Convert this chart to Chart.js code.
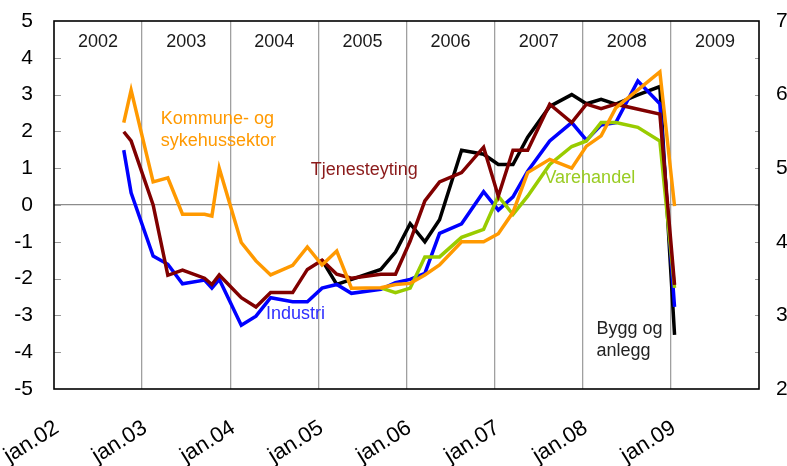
<!DOCTYPE html>
<html><head><meta charset="utf-8">
<script src="https://cdn.jsdelivr.net/npm/chart.js@4.4.0/dist/chart.umd.min.js"></script>
<style>html,body{margin:0;padding:0;background:#fff}canvas{display:block}</style>
</head><body>
<canvas id="c" width="787" height="466"></canvas>
<script>
// Survey dates, months since January 2002
const months = [9.5,10.5,13.5,15.5,17.5,20.5,21.5,22.5,25.5,27.5,29.5,32.5,34.5,36.5,38.5,40.5,44.5,46.5,48.5,50.5,52.5,55.5,58.5,60.5,62.5,64.5,67.5,70.5,72.5,74.5,76.5,79.5,82.5,84.5];
const xTickLabels = ['jan.02','jan.03','jan.04','jan.05','jan.06','jan.07','jan.08','jan.09',''];
const yearLabels = ['2002','2003','2004','2005','2006','2007','2008','2009'];

const kommune = [2.24,3.12,0.63,0.74,-0.25,-0.25,-0.30,1.0,-1.02,-1.52,-1.9,-1.64,-1.14,-1.63,-1.25,-2.26,-2.25,-2.16,-2.13,-1.9,-1.63,-1.0,-1.0,-0.78,-0.2,0.88,1.24,1.0,1.6,1.88,2.64,null,3.62,-0.03];
const tjeneste = [1.99,1.74,0.0,-1.91,-1.77,-1.99,-2.16,-1.90,-2.52,-2.77,-2.38,-2.38,-1.75,-1.5,-1.88,-1.99,-1.88,-1.88,-0.98,0.11,0.63,0.88,1.57,0.24,1.49,1.49,2.74,2.24,2.74,2.62,2.74,null,2.47,-2.17];
const industri = [1.49,0.33,-1.39,-1.61,-2.14,-2.04,-2.26,-2.02,-3.27,-3.02,-2.52,-2.63,-2.63,-2.26,-2.16,-2.40,-2.29,-2.11,-2.02,-1.86,-0.77,-0.51,0.36,-0.14,0.22,0.92,1.74,2.24,1.76,2.17,2.24,3.37,2.75,-2.77];
const bygg = [null,null,null,null,null,null,null,null,null,null,null,null,null,-1.5,-2.16,null,-1.75,-1.28,-0.51,-1.0,-0.4,1.49,1.38,1.1,1.1,1.84,2.68,3.0,2.75,2.87,2.74,2.99,3.22,-3.53];
const varehandel = [null,null,null,null,null,null,null,null,null,null,null,null,null,null,null,null,-2.25,-2.38,-2.26,-1.41,-1.41,-0.88,-0.66,0.24,-0.26,0.24,1.1,1.59,1.74,2.24,2.24,2.11,1.74,-2.25];

const FONT = '"Liberation Sans", Arial, sans-serif';

const notes = [
  {lines:['Kommune- og','sykehussektor'], m:14.55, v:2.34, color:'#FF9900'},
  {lines:['Tjenesteyting'], m:34.97, v:0.95, color:'#8B1A1A'},
  {lines:['Industri'], m:28.87, v:-2.96, color:'#2E2EFF'},
  {lines:['Varehandel'], m:66.78, v:0.73, color:'#99CC22'},
  {lines:['Bygg og','anlegg'], m:73.87, v:-3.36, color:'#222222'}
];

function pts(arr){ return months.map((m,i)=>({x:m, y:arr[i]})); }
function ds(label, arr, color){
  return {label, data: pts(arr), borderColor: color, backgroundColor: color, borderWidth: 3.5,
    pointRadius: 0, tension: 0, spanGaps: true, fill: false};
}

const decor = {
  id: 'decor',
  beforeDatasetsDraw(chart){
    const {ctx, chartArea:a, scales} = chart;
    ctx.save();
    ctx.strokeStyle = '#999';
    ctx.lineWidth = 1;
    for (let v = -4; v <= 4; v++) {
      const y = Math.round(scales.y.getPixelForValue(v)) + 0.5;
      ctx.beginPath(); ctx.moveTo(a.left, y); ctx.lineTo(a.left + 7, y); ctx.stroke();
    }
    for (let v = 2.5; v <= 6.5; v += 0.5) {
      const y = Math.round(scales.y2.getPixelForValue(v)) + 0.5;
      ctx.beginPath(); ctx.moveTo(a.right - 4, y); ctx.lineTo(a.right, y); ctx.stroke();
    }
    ctx.restore();
  },
  afterDatasetsDraw(chart){
    const {ctx, chartArea:a, scales} = chart;
    ctx.save();
    ctx.strokeStyle = '#000';
    ctx.lineWidth = 1.6;
    ctx.strokeRect(a.left, a.top, a.right - a.left, a.bottom - a.top);
    ctx.fillStyle = '#1a1a1a';
    ctx.font = '18px ' + FONT;
    ctx.textAlign = 'center';
    ctx.textBaseline = 'middle';
    yearLabels.forEach((t, i) => {
      ctx.fillText(t, scales.x.getPixelForValue(i * 12 + 6), a.top + 21);
    });
    ctx.textAlign = 'left';
    notes.forEach(n => {
      ctx.fillStyle = n.color;
      const x = scales.x.getPixelForValue(n.m);
      const y = scales.y.getPixelForValue(n.v);
      n.lines.forEach((l, k) => ctx.fillText(l, x, y + k * 22));
    });
    ctx.restore();
  }
};

new Chart(document.getElementById('c'), {
  type: 'line',
  data: {
    datasets: [
      ds('Kommune- og sykehussektor', kommune, '#FF9900'),
      ds('Tjenesteyting', tjeneste, '#800000'),
      ds('Varehandel', varehandel, '#99CC00'),
      ds('Industri', industri, '#0000FF'),
      ds('Bygg og anlegg', bygg, '#000000')
    ]
  },
  options: {
    responsive: false,
    animation: false,
    devicePixelRatio: 1,
    layout: {padding: {top: 21, left: 0, right: 0, bottom: 0}},
    plugins: {legend: {display: false}, tooltip: {enabled: false}},
    scales: {
      x: {
        type: 'linear', min: 0, max: 96,
        border: {display: false},
        grid: {drawTicks: false, lineWidth: 1.3,
          color: c => (c.tick && c.tick.value > 0 && c.tick.value < 96) ? '#a0a0a0' : 'rgba(0,0,0,0)'},
        ticks: {stepSize: 12, autoSkip: false, minRotation: 32, maxRotation: 32, padding: 26, labelOffset: 3,
          color: '#000', font: {family: FONT, size: 22},
          callback: v => { const l = xTickLabels[Math.round(v / 12)]; return l === undefined ? '' : l; }},
        afterFit: s => { s.height = 77; s.paddingLeft = 0; s.paddingRight = 0; s.paddingTop = 0; s.paddingBottom = 0; }
      },
      y: {
        position: 'left', min: -5, max: 5,
        border: {display: false},
        grid: {drawTicks: false, lineWidth: 1.2,
          color: c => (c.tick && c.tick.value === 0) ? '#8c8c8c' : 'rgba(0,0,0,0)'},
        ticks: {stepSize: 1, padding: 21, color: '#000', font: {family: FONT, size: 21},
          callback: v => String(v)},
        afterFit: s => { s.width = 54; s.paddingTop = 0; s.paddingBottom = 0; }
      },
      y2: {
        position: 'right', min: 2, max: 7,
        border: {display: false},
        grid: {display: false, drawTicks: false},
        ticks: {stepSize: 1, padding: 17, color: '#000', font: {family: FONT, size: 21},
          callback: v => String(v)},
        afterFit: s => { s.width = 28; s.paddingTop = 0; s.paddingBottom = 0; }
      }
    }
  },
  plugins: [decor]
});
</script>
</body></html>
